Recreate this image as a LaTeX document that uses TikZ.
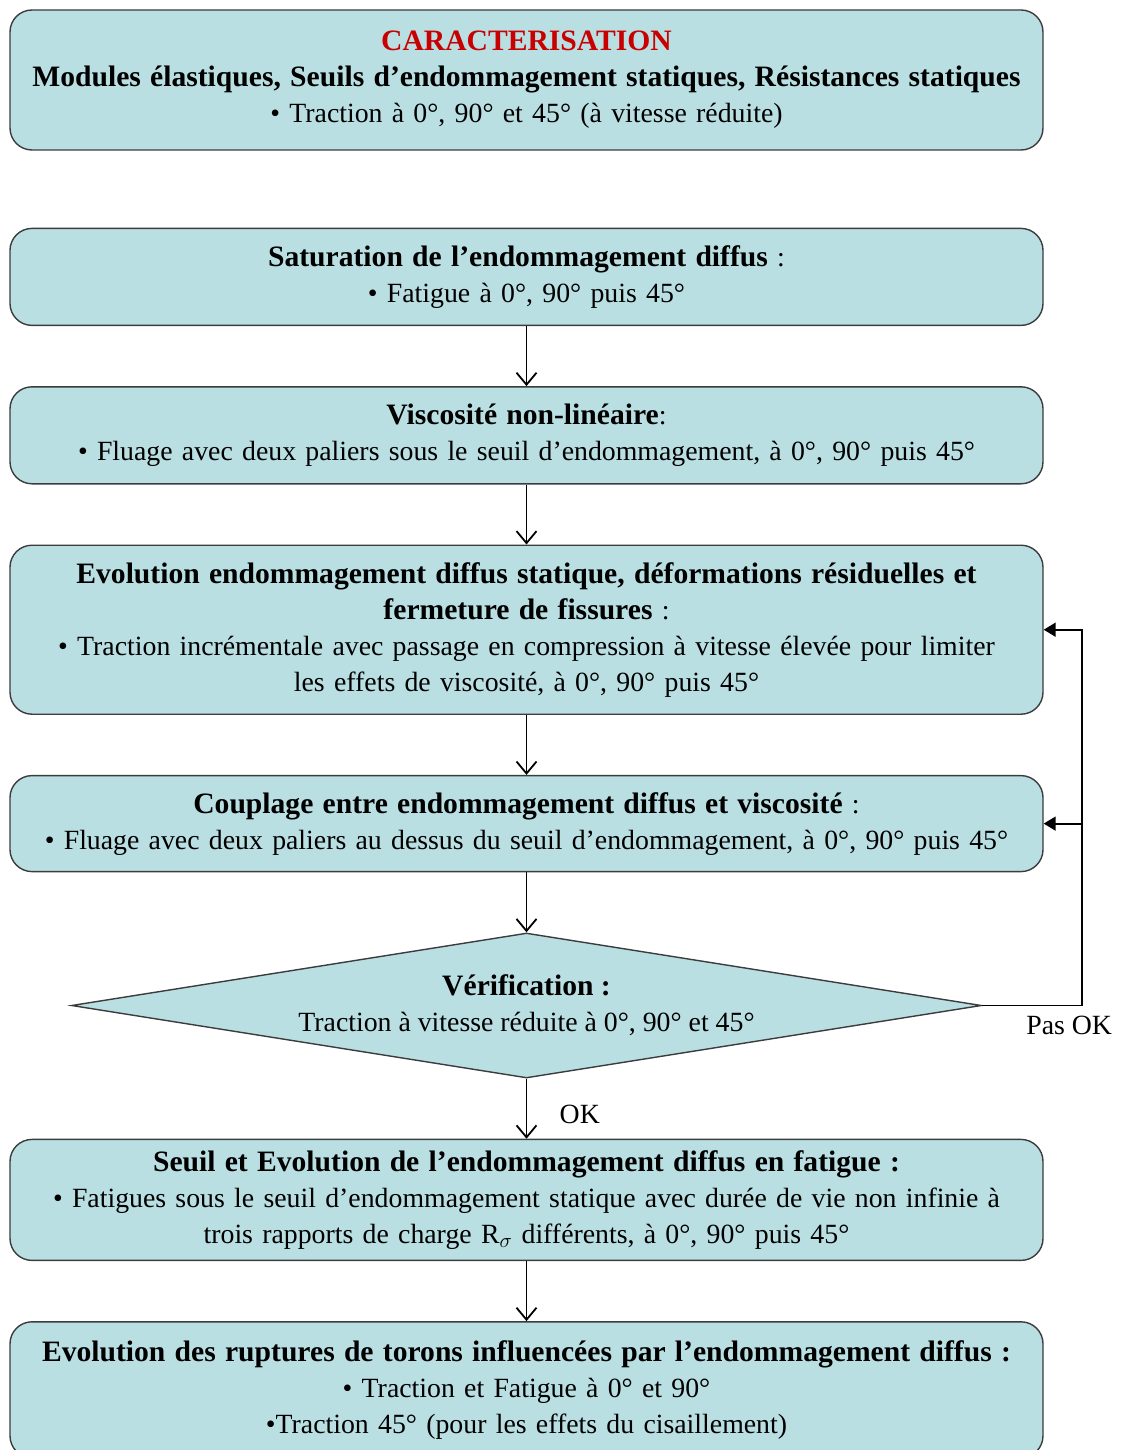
\documentclass[tikz,border=0pt]{standalone}
\usepackage{fontspec}
\setmainfont{Liberation Serif}[BoldFeatures={Scale=1.065}]
\definecolor{boxBlue}{RGB}{185,223,227}
\definecolor{edgeGray}{RGB}{60,60,60}
\definecolor{titleRed}{RGB}{200,0,0}
\usetikzlibrary{shapes,arrows.meta,positioning}

\begin{document}
\begin{tikzpicture}[
  x=1pt, y=1pt,
  node distance=60pt,
  box/.style={
    draw=edgeGray, fill=boxBlue, line width=1.4pt, rounded corners=22pt,
    minimum width=1033pt, text width=1025pt, align=center, inner sep=0pt,
    font=\fontsize{27.8}{36}\selectfont
  },
  check/.style={
    diamond, draw=edgeGray, fill=boxBlue, line width=1.4pt, shape aspect=6.28,
    minimum width=910pt, minimum height=145pt, inner sep=0pt, align=center,
    font=\fontsize{27.8}{36}\selectfont
  },
  lbl/.style={inner sep=0pt, font=\fontsize{27.8}{36}\selectfont},
  arr/.style={-{Straight Barb[length=12pt,width=20pt]}, line width=1.8pt},
  back/.style={-{Triangle[length=12pt,width=14pt]}, line width=1.8pt}
]
  \useasboundingbox (0,0) rectangle (1121,-1450);

  \node[box, minimum height=140pt] (carac) at (526.5,-80)
    {{\color{titleRed}\textbf{CARACTERISATION}}\\
     \textbf{Modules élastiques, Seuils d’endommagement statiques, Résistances statiques}\\
     • Traction à 0°, 90° et 45° (à vitesse réduite)};
  \node[box, minimum height=97pt, below=77pt of carac] (satur)
    {\textbf{Saturation de l’endommagement diffus} :\\
     • Fatigue à 0°, 90° puis 45°};
  \node[box, minimum height=97pt, below=of satur] (visco)
    {\textbf{Viscosité non-linéaire}:\\
     • Fluage avec deux paliers sous le seuil d’endommagement, à 0°, 90° puis 45°};
  \node[box, minimum height=169pt, below=of visco] (evol)
    {\textbf{Evolution endommagement diffus statique, déformations résiduelles et}\\
     \textbf{fermeture de fissures} :\\
     • Traction incrémentale avec passage en compression à vitesse élevée pour limiter\\
     les effets de viscosité, à 0°, 90° puis 45°};
  \node[box, minimum height=96pt, below=of evol] (coupl)
    {\textbf{Couplage entre endommagement diffus et viscosité} :\\
     • Fluage avec deux paliers au dessus du seuil d’endommagement, à 0°, 90° puis 45°};
  \node[check, below=of coupl] (verif)
    {\textbf{Vérification :}\\
     Traction à vitesse réduite à 0°, 90° et 45°};
  \node[box, minimum height=121pt, below=of verif] (seuil)
    {\textbf{Seuil et Evolution de l’endommagement diffus en fatigue :}\\
     • Fatigues sous le seuil d’endommagement statique avec durée de vie non infinie à\\
     trois rapports de charge R$_\sigma$ différents, à 0°, 90° puis 45°};
  \node[box, minimum height=136pt, below=of seuil] (rupt)
    {\textbf{Evolution des ruptures de torons influencées par l’endommagement diffus :}\\
     • Traction et Fatigue à 0° et 90°\\
     •Traction 45° (pour les effets du cisaillement)};

  \draw[arr] (satur) -- (visco);
  \draw[arr] (visco) -- (evol);
  \draw[arr] (evol) -- (coupl);
  \draw[arr] (coupl) -- (verif);
  \draw[arr] (verif) -- (seuil);
  \draw[arr] (seuil) -- (rupt);
  \path (verif.south) -- (seuil.north) node[lbl, pos=0.6, right=33pt] (ok) {OK};

  % boucle de retour
  \coordinate[right=100pt of verif.east] (retour);
  \draw[back] (verif.east) -- (retour) |- (evol.east);
  \draw[back] (retour |- coupl.east) -- (coupl.east);
  \node[lbl, below=10pt of retour, xshift=-13pt] (pasok) {Pas OK};
\end{tikzpicture}
\end{document}
